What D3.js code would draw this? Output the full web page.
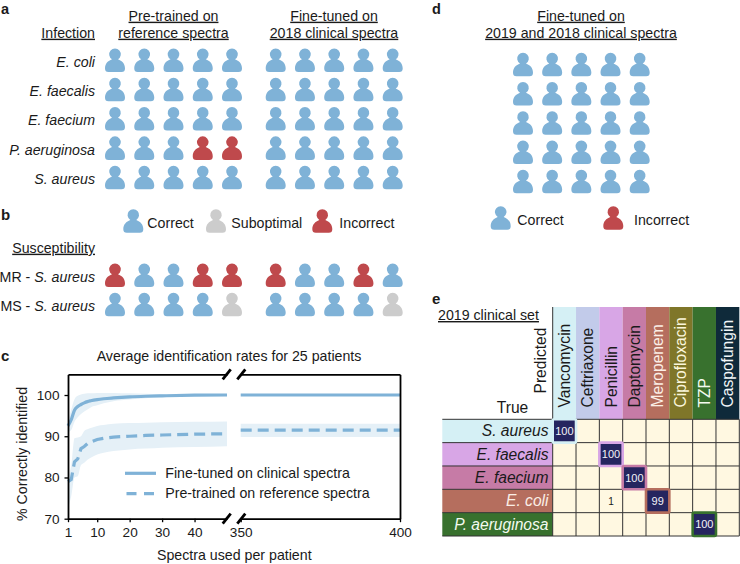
<!DOCTYPE html>
<html><head><meta charset="utf-8">
<script src="https://cdn.jsdelivr.net/npm/d3@7"></script>
<style>
html,body{margin:0;padding:0;background:#fff}
svg{display:block}
text{font-family:"Liberation Sans",Arial,sans-serif;fill:#1a1a1a}
</style></head><body><svg id="c" width="740" height="564"></svg>
<script>
// ---------- data ----------
const infections = ["E. coli","E. faecalis","E. faecium","P. aeruginosa","S. aureus"];
const susceptibility = ["MR - ","MS - "];
// C correct, S suboptimal, I incorrect
const panelAPre  = ["CCCCC","CCCCC","CCCCC","CCCII","CCCCC"];
const panelAFine = ["CCCCC","CCCCC","CCCCC","CCCCC","CCCCC"];
const panelBPre  = ["ICCII","CCCCS"];
const panelBFine = ["ICCIC","CCCCS"];
const panelD     = ["CCCCC","CCCCC","CCCCC","CCCCC","CCCCC"];

const xLeft = [1,2,3,4,5,6,7,8,10,12,15,20,25,30,40,50];
const fineMean = [92.5,94,96.3,97.2,97.7,98.1,98.4,98.6,98.9,99.1,99.3,99.55,99.7,99.8,99.95,100];
const fineLow  = [91,91.5,93.5,94.6,95.4,96,96.5,97,97.5,98,98.5,98.9,99.2,99.5,99.8,100];
const fineHigh = [93.5,96.5,99,99.8,100.1,100.3,100.4,100.4,100.5,100.5,100.5,100.4,100.3,100.2,100.1,100];
const preMean  = [79,79.5,83.8,84.5,87,87.5,88.2,88.6,89.2,89.5,89.8,90,90.2,90.3,90.5,90.6];
const preLow   = [72.5,75.5,80,80.3,83,83.6,84.3,84.8,85.6,86,86.4,86.8,87,87.2,87.4,87.6];
const preHigh  = [80,83,89.5,89.7,90,91.3,91.7,92,92.5,92.7,93,93.2,93.3,93.4,93.5,93.6];
const xRight = [350,400];
const fineRight = [100,100];
const preRight = [91.5,91.5];
const preRightLow = [89.8,89.8];
const preRightHigh = [93,93];
const xTicksLeft = [1,10,20,30,40];
const xTicksRight = [350,400];
const yTicks = [70,80,90,100];

const drugs = ["Vancomycin","Ceftriaxone","Penicillin","Daptomycin","Meropenem","Ciprofloxacin","TZP","Caspofungin"];
const drugColors = ["#d5f0f5","#c2cbea","#d8a6e6","#c67ba6","#b56e5e","#7f7629","#38712e","#0f2a3a"];
const drugText = ["#1a1a1a","#1a1a1a","#1a1a1a","#1a1a1a","#fbeee6","#fbf6dc","#f4fbf0","#f2f6f8"];
const trueRows = ["S. aureus","E. faecalis","E. faecium","E. coli","P. aeruginosa"];
const rowColors = ["#d5f0f5","#d8a6e6","#c67ba6","#b56e5e","#38712e"];
const rowText = ["#1a1a1a","#1a1a1a","#1a1a1a","#fbeee6","#f4fbf0"];
const hits = [[0,0,100],[1,2,100],[2,3,100],[3,2,1],[3,4,99],[4,6,100]];

// ---------- helpers ----------
const svg = d3.select("#c");
const palette = {C:"#7fb2d7",S:"#cccccc",I:"#bf494c"};
const personPath = "M-10 20.5C-10 15.5-7 12.8-3 11.2A5.8 5.8 0 1 1 3 11.2C7 12.8 10 15.5 10 20.5Q10 24 6.5 24L-6.5 24Q-10 24-10 20.5Z";
const FS = 14.2;

function txt(x,y,s,o={}){
  const t = svg.append("text").attr("x",x).attr("y",y)
    .attr("font-size",o.size||FS).attr("text-anchor",o.anchor||"start").text(s);
  if(o.italic) t.attr("font-style","italic");
  if(o.bold) t.attr("font-weight","bold");
  if(o.underline) t.attr("text-decoration","underline");
  if(o.fill) t.style("fill",o.fill);
  if(o.rotate) t.attr("transform",`rotate(-90 ${x} ${y})`);
  return t;
}
function person(x,y,code){
  svg.append("path").attr("d",personPath).attr("transform",`translate(${x},${y})`).attr("fill",palette[code]);
}
function grid(rows,xs,ys){
  const idx = d3.range(5);
  const sx = d3.scalePoint().domain(idx).range(xs);
  const sy = d3.scalePoint().domain(d3.range(rows.length)).range(ys);
  rows.forEach((r,i)=>[...r].forEach((c,j)=>person(sx(j),sy(i),c)));
}

// ---------- panel a ----------
txt(1,13.5,"a",{bold:true,size:14.5});
txt(173.5,20.7,"Pre-trained on",{anchor:"middle",underline:true});
txt(173.5,37.7,"reference spectra",{anchor:"middle",underline:true});
txt(334,20.7,"Fine-tuned on",{anchor:"middle",underline:true});
txt(334,37.7,"2018 clinical spectra",{anchor:"middle",underline:true});
txt(95,37.7,"Infection",{anchor:"end",underline:true});
const rowsA = d3.scalePoint().domain(infections).range([48,165.2]);
infections.forEach(n=>txt(95,rowsA(n)+18.7,n,{anchor:"end",italic:true}));
grid(panelAPre,[115,232],[48,165.2]);
grid(panelAFine,[275.7,392.7],[48,165.2]);

// ---------- panel b ----------
txt(1,219.5,"b",{bold:true,size:15});
[[133.3,"C","Correct",147.3],[216,"S","Suboptimal",231.3],[322.3,"I","Incorrect",339.3]].forEach(d=>{
  person(d[0],208.7,d[1]); txt(d[3],228,d[2]);
});
txt(95,252.7,"Susceptibility",{anchor:"end",underline:true});
susceptibility.forEach((p,i)=>{
  const yy = [282.3,311.3][i];
  const t = txt(95,yy,p,{anchor:"end"});
  t.append("tspan").attr("font-style","italic").text("S. aureus");
});
grid(panelBPre,[115,232],[263,292.2]);
grid(panelBFine,[275.7,392.7],[263,292.2]);

// ---------- panel c ----------
txt(1,361,"c",{bold:true,size:15});
txt(229,361.3,"Average identification rates for 25 patients",{anchor:"middle"});
const y = d3.scaleLinear().domain([70,105]).range([518.7,374.4]);
const x1 = d3.scaleLinear().domain([1,50]).range([68,227]);
const x2 = d3.scaleLinear().domain([350,400]).range([240.7,400]);
const blue="#7fb2d7", band="#e5f0f7";
function area(xs,lo,hi,sc){
  svg.append("path").attr("fill",band).attr("d",d3.area().x((d,i)=>sc(xs[i])).y0((d,i)=>y(lo[i])).y1((d,i)=>y(hi[i])).curve(d3.curveMonotoneX)(xs));
}
function line(xs,v,sc,dash){
  const p = svg.append("path").attr("fill","none").attr("stroke",blue).attr("stroke-width",3.2)
   .attr("d",d3.line().x((d,i)=>sc(xs[i])).y((d,i)=>y(v[i])).curve(dash?d3.curveLinear:d3.curveMonotoneX)(xs));
  if(dash) p.attr("stroke-dasharray","11,6");
}
area(xLeft,fineLow,fineHigh,x1);
area(xLeft,preLow,preHigh,x1);
area(xRight,preRightLow,preRightHigh,x2);
line(xLeft,fineMean,x1);
line(xRight,fineRight,x2);
line(xLeft,preMean,x1,true);
line(xRight,preRight,x2,true);
// axes
function axisFix(g){
  g.selectAll("text").style("font-family",'"Liberation Sans",Arial,sans-serif').style("font-size","13.6px").style("fill","#1a1a1a");
  g.selectAll("line").attr("stroke","#000").attr("stroke-width",1.3);
  g.select(".domain").attr("stroke","#000").attr("stroke-width",1.8);
}
const axisY = svg.append("g").attr("transform","translate(68,0)").call(d3.axisLeft(y).tickValues(yTicks).tickSize(3.5).tickPadding(5).tickSizeOuter(0));
axisFix(axisY);
const axB1 = svg.append("g").attr("transform","translate(0,518.7)").call(d3.axisBottom(x1).tickValues(xTicksLeft).tickSize(3.5).tickPadding(5).tickSizeOuter(0));
axisFix(axB1);
const axB2 = svg.append("g").attr("transform","translate(0,518.7)").call(d3.axisBottom(x2).tickValues(xTicksRight).tickSize(3.5).tickPadding(5).tickSizeOuter(0));
axisFix(axB2);
const axT1 = svg.append("g").attr("transform","translate(0,374.4)").call(d3.axisTop(x1).tickValues([]).tickSizeOuter(0));
axisFix(axT1);
const axT2 = svg.append("g").attr("transform","translate(0,374.4)").call(d3.axisTop(x2).tickValues([]).tickSizeOuter(0));
axisFix(axT2);
const axR = svg.append("g").attr("transform","translate(400,0)").call(d3.axisRight(y).tickValues([]).tickSizeOuter(0));
axisFix(axR);
[374.4,518.7].forEach(yy=>[226.7,241.3].forEach(xx=>{
  svg.append("line").attr("x1",xx-4).attr("x2",xx+4).attr("y1",yy+5).attr("y2",yy-5)
    .attr("stroke","#000").attr("stroke-width",2.8);
}));
txt(27,454,"% Correctly identified",{anchor:"middle",rotate:true});
txt(234.3,560,"Spectra used per patient",{anchor:"middle"});
svg.append("line").attr("x1",125).attr("x2",156).attr("y1",473.3).attr("y2",473.3).attr("stroke",blue).attr("stroke-width",3.2);
svg.append("line").attr("x1",126.5).attr("x2",154).attr("y1",493.7).attr("y2",493.7).attr("stroke",blue).attr("stroke-width",3.2).attr("stroke-dasharray","10,7.5");
txt(165.3,478,"Fine-tuned on clinical spectra");
txt(165.3,498.3,"Pre-trained on reference spectra");

// ---------- panel d ----------
txt(432,13.5,"d",{bold:true,size:14.5});
txt(581,20.7,"Fine-tuned on",{anchor:"middle",underline:true});
txt(581,37.7,"2019 and 2018 clinical spectra",{anchor:"middle",underline:true});
grid(panelD,[523,639.7],[52.3,169.3]);
person(500.7,205.7,"C"); txt(517.3,225.3,"Correct");
person(613.3,205.7,"I"); txt(634,225.3,"Incorrect");

// ---------- panel e ----------
txt(432,303.5,"e",{bold:true,size:15});
txt(438,320,"2019 clinical set",{underline:true});
txt(545.7,393.5,"Predicted",{rotate:true,size:15.6});
txt(528.3,413.3,"True",{anchor:"end",size:15.6});
const cx = d3.scaleBand().domain(d3.range(drugs.length)).range([552.7,739.3]);
const cy = d3.scaleBand().domain(d3.range(trueRows.length)).range([419.3,536]);
svg.append("rect").attr("x",552.7).attr("y",419.3).attr("width",186.6).attr("height",116.7).attr("fill","#fff8e1");
drugs.forEach((d,i)=>{
  svg.append("rect").attr("x",cx(i)).attr("y",307).attr("width",cx.bandwidth()).attr("height",112.3).attr("fill",drugColors[i]);
  txt(cx(i)+cx.bandwidth()/2+5.5,407.5,d,{rotate:true,fill:drugText[i],size:15.6});
});
trueRows.forEach((d,i)=>{
  svg.append("rect").attr("x",442.3).attr("y",cy(i)).attr("width",110.4).attr("height",cy.bandwidth()).attr("fill",rowColors[i]);
  txt(548.5,cy(i)+cy.bandwidth()/2+5.5,d,{anchor:"end",italic:true,fill:rowText[i],size:15.6});
});
d3.range(trueRows.length+1).forEach(i=>{
  const yy = 419.3+i*cy.bandwidth();
  svg.append("line").attr("x1",442.3).attr("x2",739.3).attr("y1",yy).attr("y2",yy).attr("stroke","#333").attr("stroke-width",1);
});
d3.range(drugs.length+1).forEach(i=>{
  const xx = 552.7+i*cx.bandwidth();
  svg.append("line").attr("x1",xx).attr("x2",xx).attr("y1",i===0?307:419.3).attr("y2",536).attr("stroke","#333").attr("stroke-width",1);
});
hits.forEach(([r,c,v])=>{
  if(v>=50){
    svg.append("rect").attr("x",cx(c)).attr("y",cy(r)).attr("width",cx.bandwidth()).attr("height",cy.bandwidth())
      .attr("rx",1.5).attr("fill","#25255f").attr("stroke",rowColors[r]).attr("stroke-width",2.6);
  }
  txt(cx(c)+cx.bandwidth()/2,cy(r)+cy.bandwidth()/2+4,v,{anchor:"middle",size:v>=50?11:10,fill:v>=50?"#f2f2f8":"#1a1a1a"});
});
</script></body></html>
